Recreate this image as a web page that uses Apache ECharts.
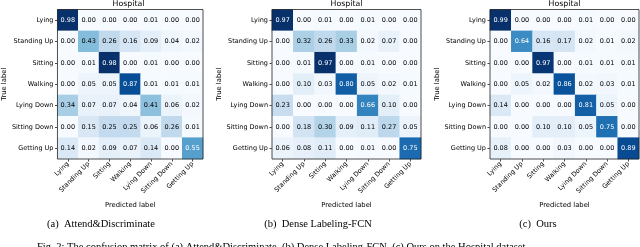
<!DOCTYPE html>
<html><head><meta charset="utf-8">
<script src="https://cdn.jsdelivr.net/npm/echarts@6/dist/echarts.min.js"></script>
<style>html,body{margin:0;padding:0;background:#fff}#c{width:640px;height:247px}</style>
</head><body><div id="c"></div>
<script>
var labels = ['Lying','Standing Up','Sitting','Walking','Lying Down','Sitting Down','Getting Up'];
var matA = [
[0.98,0.00,0.00,0.00,0.01,0.00,0.00],
[0.00,0.43,0.26,0.16,0.09,0.04,0.02],
[0.00,0.01,0.98,0.00,0.01,0.00,0.00],
[0.00,0.05,0.05,0.87,0.01,0.01,0.01],
[0.34,0.07,0.07,0.04,0.41,0.06,0.02],
[0.00,0.15,0.25,0.25,0.06,0.26,0.01],
[0.14,0.02,0.09,0.07,0.14,0.00,0.55]];
var matB = [
[0.97,0.00,0.01,0.00,0.01,0.00,0.00],
[0.00,0.32,0.26,0.33,0.02,0.07,0.00],
[0.00,0.01,0.97,0.00,0.01,0.00,0.00],
[0.00,0.10,0.03,0.80,0.05,0.02,0.01],
[0.23,0.00,0.00,0.00,0.66,0.10,0.00],
[0.00,0.18,0.30,0.09,0.11,0.27,0.05],
[0.06,0.08,0.11,0.00,0.01,0.00,0.75]];
var matC = [
[0.99,0.00,0.00,0.00,0.01,0.00,0.00],
[0.00,0.64,0.16,0.17,0.02,0.01,0.02],
[0.00,0.00,0.97,0.00,0.01,0.01,0.01],
[0.00,0.05,0.02,0.86,0.02,0.03,0.01],
[0.14,0.00,0.00,0.00,0.81,0.05,0.00],
[0.00,0.00,0.10,0.10,0.05,0.75,0.00],
[0.08,0.00,0.00,0.03,0.00,0.00,0.89]];
var panelTitle = 'Hospital';
var captions = ['(a)  Attend&Discriminate','(b)  Dense Labeling-FCN','(c)  Ours'];
var figCaption = 'Fig. 2: The confusion matrix of (a) Attend&Discriminate, (b) Dense Labeling-FCN, (c) Ours on the Hospital dataset.';

var mats = [matA, matB, matC];
var lefts = [54, 272, 490];
var gw = 149, gtop = 9.5, gh = 149.5;
var blues = ['#f7fbff','#deebf7','#c6dbef','#9ecae1','#6baed6','#4292c6','#2171b5','#08519c','#08306b'];
var sans = 'DejaVu Sans';

var grids=[], xAxes=[], yAxes=[], series=[], vms=[], titles=[], graphics=[];
mats.forEach(function(m, k){
  var mx = 0, mn = 1;
  m.forEach(function(r){ r.forEach(function(v){ if(v>mx) mx=v; if(v<mn) mn=v; }); });
  var thr = (mx+mn)/2;
  grids.push({left: lefts[k], top: gtop, width: gw, height: gh, show: true, borderColor: '#222', borderWidth: 0.8, z: 10});
  xAxes.push({type:'category', gridIndex:k, data: labels, position:'bottom',
    axisLine:{show:false}, splitLine:{show:false},
    axisTick:{show:true, alignWithLabel:true, length:2.5, lineStyle:{color:'#000', width:0.7}},
    axisLabel:{rotate:45, fontSize:6.5, fontFamily:sans, color:'#000', margin:4, interval:0},
    name:'Predicted label', nameLocation:'middle', nameGap:40,
    nameTextStyle:{fontSize:6.8, fontFamily:sans, color:'#000'}});
  yAxes.push({type:'category', gridIndex:k, data: labels, inverse:true,
    axisLine:{show:false}, splitLine:{show:false},
    axisTick:{show:true, alignWithLabel:true, length:2.5, lineStyle:{color:'#000', width:0.7}},
    axisLabel:{fontSize:6.5, fontFamily:sans, color:'#000', margin:4, interval:0},
    name:'True label', nameLocation:'middle', nameRotate:90, nameGap: [46, 44, 44][k],
    nameTextStyle:{fontSize:6.8, fontFamily:sans, color:'#000'}});
  var data = [];
  m.forEach(function(r, i){ r.forEach(function(v, j){
    data.push({value:[j, i, v], label:{color: v > thr ? '#fff' : '#000'}});
  }); });
  series.push({type:'heatmap', xAxisIndex:k, yAxisIndex:k, data:data,
    label:{show:true, fontSize:6.5, fontFamily:sans, formatter:function(p){ return p.value[2].toFixed(2); }},
    itemStyle:{borderWidth:0}, emphasis:{disabled:true}});
  vms.push({type:'continuous', seriesIndex:k, min:mn, max:mx, dimension:2, show:false, inRange:{color:blues}});
  titles.push({text: panelTitle, left: lefts[k] + gw/2, top: 0, padding: 0, textAlign:'center',
    textStyle:{fontSize:7.8, fontWeight:'normal', fontFamily:sans, color:'#000'}});
  graphics.push({type:'text', style:{text: captions[k], x: [101, 318, 538][k], y: 224,
    textAlign:'center', textVerticalAlign:'middle', font:'10.5px "Liberation Serif"', fill:'#000'}});
});
graphics.push({type:'text', style:{text: figCaption, x: 37, y: 242, textAlign:'left', textVerticalAlign:'top',
  font:'10.5px "Liberation Serif"', fill:'#000'}});

var chart = echarts.init(document.getElementById('c'), null, {renderer:'canvas'});
chart.setOption({
  animation:false,
  backgroundColor:'#fff',
  title: titles,
  grid: grids, xAxis: xAxes, yAxis: yAxes, visualMap: vms, series: series,
  graphic: graphics
});
</script></body></html>
